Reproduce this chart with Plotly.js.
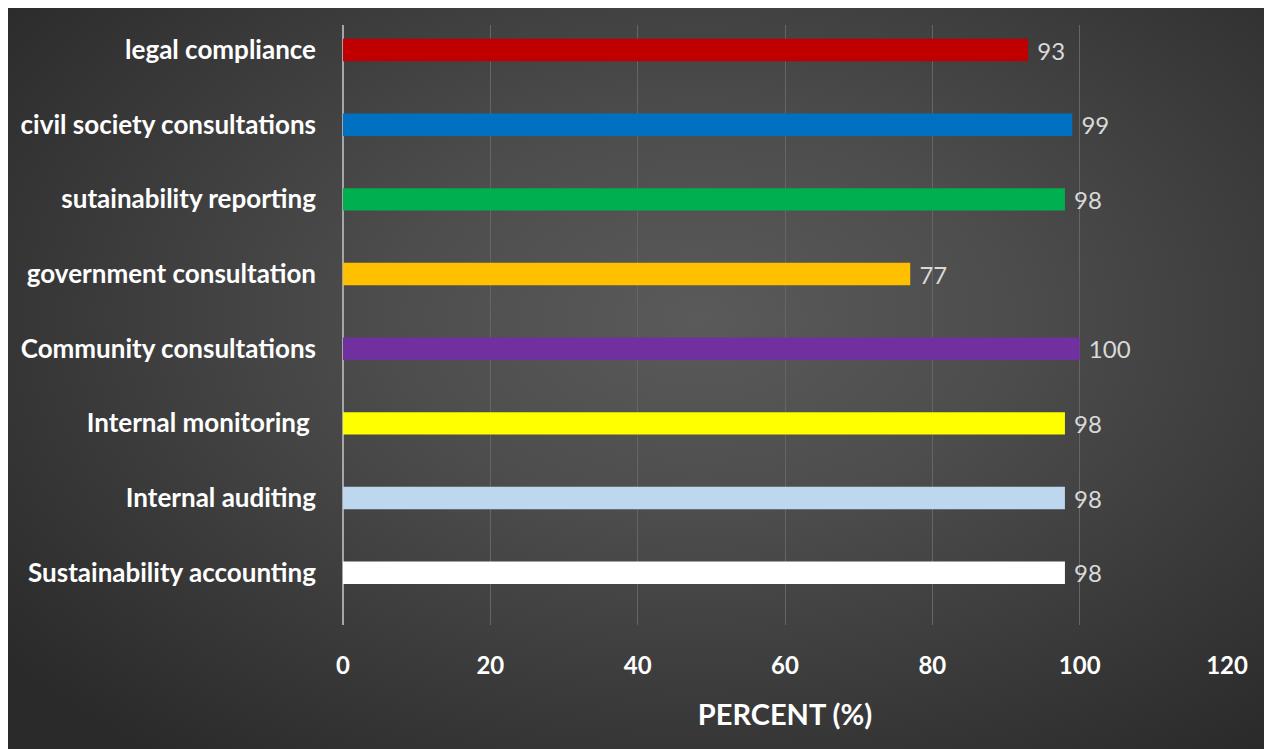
<!DOCTYPE html>
<html>
<head>
<meta charset="utf-8">
<script src="https://cdn.plot.ly/plotly-3.0.1.min.js"></script>
<style>
  html, body { margin: 0; padding: 0; background: #ffffff; }
  #bg { position: absolute; left: 8px; top: 8px; width: 1256px; height: 741px;
        background: radial-gradient(ellipse 70% 75% at 55% 42%, #5a5a5a 0%, #4d4d4d 35%, #3a3a3a 70%, #2a2a2a 100%); }
  #chart { position: absolute; left: 0; top: 0; width: 1264px; height: 749px; }
</style>
</head>
<body>
<div id="bg"></div>
<div id="chart"></div>
<script>
// bottom-to-top order as drawn
const categories = [
  "Sustainability accounting",
  "Internal auditing",
  "Internal monitoring ",
  "Community consultations",
  "government consultation",
  "sutainability reporting",
  "civil society consultations",
  "legal compliance"
];
const percentValues = [98, 98, 98, 100, 77, 98, 99, 93];
const barColors = ["#ffffff", "#bdd7ee", "#ffff00", "#7030a0", "#ffc000", "#00b050", "#0070c0", "#c00000"];
const xTickValues = [0, 20, 40, 60, 80, 100, 120];

const trace = {
  type: "bar",
  orientation: "h",
  y: categories,
  x: percentValues,
  width: 0.3,
  marker: { color: barColors, line: { width: 0 } },
  texttemplate: "\u00a0%{x}",
  textposition: "outside",
  constraintext: "none",
  cliponaxis: false,
  textfont: { family: "Lato, sans-serif", size: 24, color: "#d9d9d9" },
  hoverinfo: "skip"
};

const layout = {
  width: 1264,
  height: 749,
  paper_bgcolor: "rgba(0,0,0,0)",
  plot_bgcolor: "rgba(0,0,0,0)",
  margin: { l: 343, r: 37, t: 25, b: 124 },
  showlegend: false,
  font: { family: "Lato, sans-serif", color: "#ffffff" },
  xaxis: {
    range: [0, 120],
    tickvals: xTickValues,
    ticktext: xTickValues.map(String),
    showgrid: true,
    gridcolor: "#656565",
    gridwidth: 1,
    zeroline: true,
    zerolinecolor: "#a6a6a6",
    zerolinewidth: 1.5,
    showline: false,
    ticks: "",
    ticklabelstandoff: 24,
    tickfont: { family: "Lato, sans-serif", size: 24, color: "#ffffff", weight: "bold" },
    title: { text: "<b>PERCENT (%)</b>", font: { family: "Lato, sans-serif", size: 29, color: "#ffffff" }, standoff: 26 },
    automargin: false,
    fixedrange: true
  },
  yaxis: {
    type: "category",
    categoryorder: "array",
    categoryarray: categories,
    range: [-0.7, 7.335],
    showgrid: false,
    zeroline: false,
    showline: false,
    ticks: "",
    ticklabelstandoff: 26,
    tickfont: { family: "Lato, sans-serif", size: 26, color: "#ffffff", weight: "bold" },
    automargin: false,
    fixedrange: true
  },
  bargap: 0.7
};

Plotly.newPlot("chart", [trace], layout, { displayModeBar: false, staticPlot: true });
</script>
</body>
</html>
